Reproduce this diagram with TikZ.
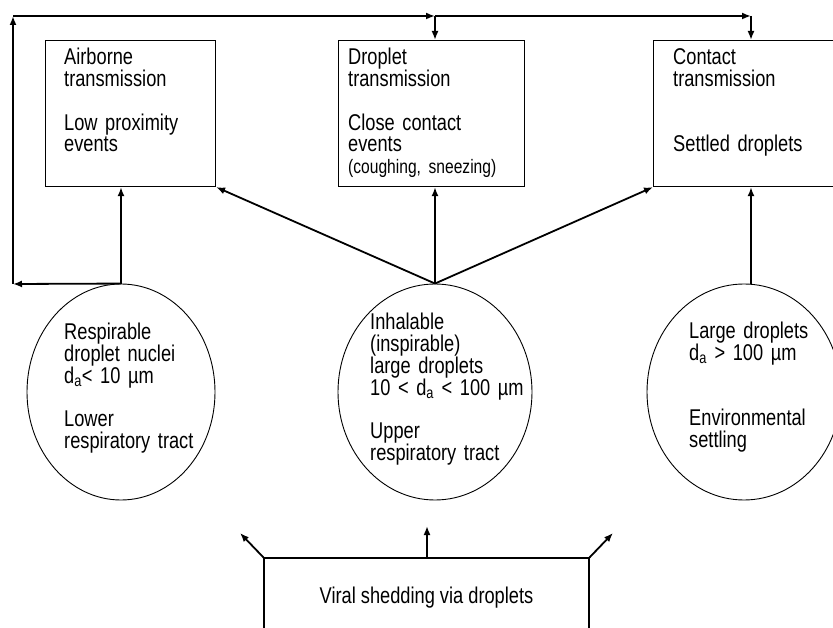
\documentclass[tikz,border=0pt]{standalone}
\usepackage{fontspec}
\setmainfont[FakeStretch=0.8]{Liberation Sans}
\usetikzlibrary{shapes.geometric, arrows.meta, calc}
\newcommand{\dsub}{d\textsubscript{a}}

\begin{document}
\begin{tikzpicture}[x = 1pt, y = -1pt,
    riquadro/.style = {draw, line width = 1.1pt, minimum height = 146pt, inner sep = 0pt, anchor = north west},
    ellisse/.style = {draw, ellipse, line width = 0.9pt, minimum height = 216pt, inner sep = 0pt},
    testo/.style = {anchor = base west, align = left, inner sep = 0pt, text width = 180pt},
    freccia/.style = {-{Latex[length = 9pt, width = 7pt]}, line width = 1.8pt}]
    \pgfmathsetmacro{\larg}{833}
    \pgfmathsetmacro{\alt}{628}
    \pgfmathsetmacro{\riga}{21.7}
    \pgfmathsetmacro{\doppia}{2*\riga}
    \useasboundingbox (0,0) rectangle (\larg,\alt);
    \clip (0,0) rectangle (\larg,\alt);
    \fill[white] (0,0) rectangle (\larg,\alt);
    \fontsize{22.8}{\riga}\selectfont
    % Riquadri
    \node[riquadro, minimum width = 170pt] (aereo) at (45,40) {};
    \node[riquadro, minimum width = 186pt] (goccia) at (338,40) {};
    \node[riquadro, minimum width = 180pt] (contatto) at (653,40) {};
    \node[testo] (aereoT) at (64,65) {Airborne\\transmission\\[\riga pt]Low proximity\\events};
    \node[testo] (gocciaT) at (348,65) {Droplet\\transmission\\[\riga pt]Close contact\\events\\{\fontsize{19.5}{19}\selectfont (coughing, sneezing)}};
    \node[testo] (contattoT) at (673,65) {Contact\\transmission\\[\doppia pt]Settled droplets};
    % Ellissi
    \node[ellisse, minimum width = 188pt] (respir) at (121,392) {};
    \node[ellisse, minimum width = 194pt] (inal) at (435,392) {};
    \node[ellisse, minimum width = 194pt] (grandi) at (744,392) {};
    \node[testo] (respirT) at (64,340) {Respirable\\droplet nuclei\\\dsub< 10 µm\\[\riga pt]Lower\\respiratory tract};
    \node[testo] (inalT) at (370,330) {Inhalable\\(inspirable)\\large droplets\\10 < \dsub{} < 100 µm\\[\riga pt]Upper\\respiratory tract};
    \node[testo] (grandiT) at (689,339) {Large droplets\\\dsub{} > 100 µm\\[\doppia pt]Environmental\\settling};
    % Sorgente
    \node[draw, line width = 1.1pt, minimum width = 325pt, minimum height = 80pt, inner sep = 0pt] (virale) at (426.5,598) {Viral shedding via droplets};
    % Frecce verso l'alto
    \draw[freccia] (respir.north) -- (respir.north |- aereo.south);
    \draw[freccia] (inal.north) -- (aereo.south east);
    \draw[freccia] (inal.north) -- (inal.north |- goccia.south);
    \draw[freccia] (inal.north) -- (contatto.south west);
    \coordinate (deposito) at ($(grandi.north)+(7,0)$);
    \draw[freccia] (deposito) -- (deposito |- contatto.south);
    % Anello
    \coordinate (angoloBS) at (13,284);
    \coordinate (angoloAS) at (13,16);
    \coordinate (snodo) at (435,16);
    \coordinate (angoloAD) at (751,16);
    \draw[freccia] (respir.north) -- (angoloBS);
    \draw[freccia] (angoloBS) -- (angoloAS);
    \draw[freccia] (angoloAS) -- (snodo);
    \draw[freccia] (snodo) -- (angoloAD);
    \draw[freccia] (snodo) -- (snodo |- goccia.north);
    \draw[freccia] (angoloAD) -- (angoloAD |- contatto.north);
    % Uscite della sorgente
    \coordinate (uscitaS) at (240,533);
    \coordinate (uscitaC) at (427,526);
    \coordinate (uscitaD) at (613,533);
    \draw[freccia] (virale.north west) -- (uscitaS);
    \draw[freccia] (uscitaC |- virale.north) -- (uscitaC);
    \draw[freccia] (virale.north east) -- (uscitaD);
\end{tikzpicture}
\end{document}
